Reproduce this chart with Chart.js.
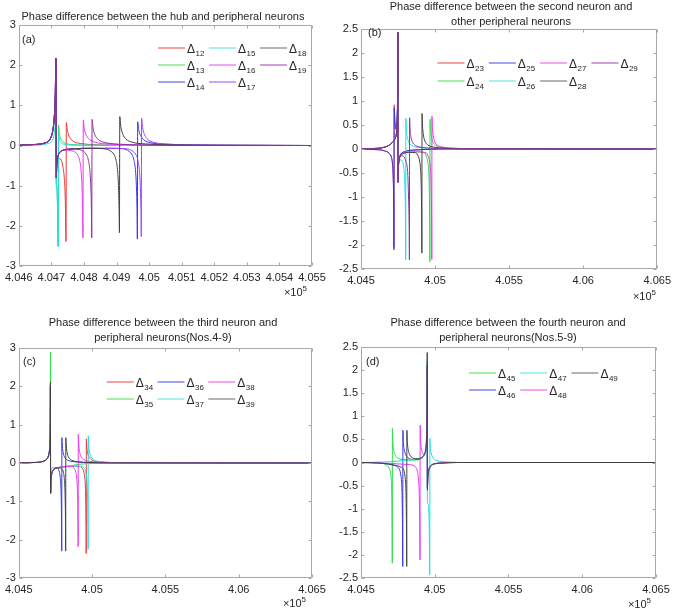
<!DOCTYPE html>
<html><head><meta charset="utf-8">
<script src="https://cdn.jsdelivr.net/npm/chart.js@4.4.1/dist/chart.umd.min.js"></script>
<style>
html,body{margin:0;padding:0;background:#fff;}
#wrap{position:relative;width:676px;height:611px;overflow:hidden;background:#fff;}
.pn{position:absolute;}
</style></head><body><div id="wrap"></div>
<script>
// ---------- tick values / labels ----------
const xTicksA = [4.046,4.047,4.048,4.049,4.050,4.051,4.052,4.053,4.054,4.055];
const xLabelsA = ['4.046','4.047','4.048','4.049','4.05','4.051','4.052','4.053','4.054','4.055'];
const xTicksW = [4.045,4.050,4.055,4.060,4.065];
const xLabelsW = ['4.045','4.05','4.055','4.06','4.065'];
const yTicks3 = [-3,-2,-1,0,1,2,3];
const yLabels3 = ['-3','-2','-1','0','1','2','3'];
const yTicks25 = [-2.5,-2,-1.5,-1,-0.5,0,0.5,1,1.5,2,2.5];
const yLabels25 = ['-2.5','-2','-1.5','-1','-0.5','0','0.5','1','1.5','2','2.5'];

const namesA = ['Δ12','Δ13','Δ14','Δ15','Δ16','Δ17','Δ18','Δ19'];
const namesB = ['Δ23','Δ24','Δ25','Δ26','Δ27','Δ28','Δ29'];
const namesC = ['Δ34','Δ35','Δ36','Δ37','Δ38','Δ39'];
const namesD = ['Δ45','Δ46','Δ47','Δ48','Δ49'];

// ---------- panel (a) series  [x (×10^5), y] ----------
const rampA = [[4.046,0.01],[4.0466,0.03],[4.0468,0.06],[4.0469,0.1],[4.04697,0.17],[4.04702,0.28],[4.04706,0.45],[4.04709,0.7],[4.04712,1.2],[4.04714,2.17]];
const dropA = [[4.04715,-0.8],[4.04717,-0.45],[4.0472,-0.28],[4.04725,-0.18],[4.04732,-0.13],[4.04745,-0.1]];
const d12 = [[4.046,0.01],[4.0466,0.03],[4.0468,0.06],[4.0469,0.1],[4.04697,0.17],[4.04702,0.28],[4.04706,0.45],[4.04709,0.7],[4.04712,1.2],[4.04714,2.15],[4.04715,-0.6],[4.04718,-0.4],[4.04722,-0.33],[4.04727,-0.33],[4.04732,-0.4],[4.04736,-0.55],[4.0474,-0.85],[4.04743,-1.4],[4.04745,-2.39],[4.04746,0.57],[4.04749,0.4],[4.04753,0.26],[4.0476,0.16],[4.0477,0.09],[4.0479,0.05],[4.0482,0.025],[4.0487,0.01],[4.0495,0.004],[4.055,0]];
const d13 = [[4.046,0.01],[4.0466,0.03],[4.0468,0.06],[4.0469,0.1],[4.04697,0.17],[4.04702,0.28],[4.04706,0.45],[4.04709,0.7],[4.04712,1.2],[4.04714,2.0],[4.04715,-0.75],[4.04717,-1.0],[4.04719,-1.5],[4.04721,-2.5],[4.04722,0.51],[4.04725,0.3],[4.04729,0.17],[4.04735,0.1],[4.04745,0.05],[4.0476,0.025],[4.048,0.01],[4.049,0.003],[4.055,0]];
const d14 = [...rampA, ...dropA, [4.0477,-0.08],[4.0482,-0.07],[4.0488,-0.07],[4.0492,-0.08],[4.04939,-0.15],[4.04949,-0.25],[4.04954,-0.38],[4.04958,-0.6],[4.04961,-1.0],[4.04963,-1.6],[4.04964,-2.33],[4.04965,0.59],[4.04968,0.4],[4.04974,0.25],[4.04984,0.14],[4.05004,0.07],[4.05044,0.035],[4.05114,0.015],[4.05264,0.005],[4.055,0]];
const d15 = [[4.046,0],[4.0466,0.01],[4.0469,0.05],[4.047,0.09],[4.04705,0.16],[4.04709,0.3],[4.04712,0.6],[4.04713,1.0],[4.04714,-0.8],[4.04717,-1.1],[4.04719,-1.6],[4.04721,-2.52],[4.04722,0.3],[4.04725,0.15],[4.0473,0.07],[4.0474,0.03],[4.0476,0.01],[4.055,0]];
const d16 = [...rampA, [4.04715,-0.8],[4.04717,-0.45],[4.0472,-0.28],[4.04725,-0.18],[4.04732,-0.13],[4.04745,-0.11],[4.04762,-0.13],[4.04772,-0.16],[4.04782,-0.25],[4.04787,-0.38],[4.04791,-0.6],[4.04794,-1.0],[4.04796,-1.6],[4.04797,-2.3],[4.04798,0.63],[4.04801,0.42],[4.04807,0.26],[4.04817,0.15],[4.04837,0.075],[4.04877,0.035],[4.04947,0.015],[4.05097,0.005],[4.055,0]];
const d17 = [...rampA, ...dropA, [4.0477,-0.08],[4.0482,-0.07],[4.0488,-0.07],[4.0493,-0.08],[4.04951,-0.15],[4.04961,-0.25],[4.04966,-0.38],[4.0497,-0.6],[4.04973,-1.0],[4.04975,-1.6],[4.04976,-2.27],[4.04977,0.68],[4.0498,0.45],[4.04986,0.27],[4.04996,0.15],[4.05016,0.075],[4.05056,0.035],[4.05126,0.015],[4.05276,0.005],[4.055,0]];
const d18 = [...rampA, ...dropA, [4.0477,-0.08],[4.0482,-0.07],[4.0486,-0.08],[4.04884,-0.15],[4.04894,-0.25],[4.04899,-0.38],[4.04903,-0.6],[4.04906,-1.0],[4.04908,-1.6],[4.04909,-2.17],[4.0491,0.72],[4.04913,0.48],[4.04919,0.29],[4.04929,0.16],[4.04949,0.08],[4.04989,0.04],[4.05059,0.017],[4.05209,0.005],[4.055,0]];
const d19 = [...rampA, ...dropA, [4.0477,-0.09],[4.04799,-0.15],[4.04809,-0.25],[4.04814,-0.38],[4.04818,-0.6],[4.04821,-1.0],[4.04823,-1.6],[4.04824,-2.3],[4.04825,0.65],[4.04828,0.43],[4.04834,0.26],[4.04844,0.15],[4.04864,0.075],[4.04904,0.035],[4.04974,0.015],[4.05124,0.005],[4.055,0]];

// ---------- panel (b) series ----------
const rampB = [[4.045,0.005],[4.0462,0.015],[4.0466,0.04],[4.0469,0.08],[4.0471,0.13],[4.0473,0.22],[4.0474,0.35],[4.04744,0.55],[4.04747,1.0],[4.04748,1.5],[4.04749,2.43]];
const dropB = [[4.0475,-0.65],[4.04752,-0.4],[4.04756,-0.25],[4.04762,-0.17],[4.0477,-0.13],[4.0478,-0.1]];
const d23 = [[4.045,-0.005],[4.0462,-0.015],[4.0466,-0.04],[4.0469,-0.09],[4.04705,-0.17],[4.04713,-0.32],[4.04717,-0.55],[4.0472,-1.0],[4.04721,-1.5],[4.04722,-2.05],[4.04724,0.92],[4.04728,0.62],[4.04732,0.47],[4.04737,0.43],[4.04741,0.5],[4.04745,0.75],[4.04747,1.15],[4.04748,1.6],[4.04749,2.35],[4.0475,-0.7],[4.04752,-0.42],[4.04756,-0.25],[4.04762,-0.15],[4.0477,-0.1],[4.0479,-0.06],[4.0483,-0.03],[4.049,-0.015],[4.0505,0],[4.065,0]];
const d24 = [...rampB, ...dropB, [4.0482,-0.07],[4.0488,-0.06],[4.0493,-0.08],[4.0494,-0.15],[4.0495,-0.25],[4.04955,-0.38],[4.04959,-0.6],[4.04962,-1.0],[4.04964,-1.6],[4.04965,-2.35],[4.04966,0.62],[4.04969,0.42],[4.04975,0.26],[4.04985,0.15],[4.05005,0.075],[4.05045,0.035],[4.05115,0.015],[4.05265,0.005],[4.065,0]];
const d25 = [[4.045,-0.005],[4.0462,-0.015],[4.0466,-0.04],[4.0469,-0.09],[4.04705,-0.17],[4.04713,-0.32],[4.04717,-0.55],[4.0472,-1.0],[4.04721,-1.5],[4.04722,-2.1],[4.04724,0.85],[4.04728,0.6],[4.04732,0.45],[4.04737,0.41],[4.04741,0.48],[4.04745,0.73],[4.04747,1.15],[4.04748,1.6],[4.04749,2.4],[4.0475,-0.7],[4.04752,-0.42],[4.04756,-0.25],[4.04762,-0.15],[4.0477,-0.1],[4.0479,-0.06],[4.0483,-0.03],[4.049,-0.015],[4.0505,0],[4.065,0]];
const d26 = [...rampB, [4.0475,-0.65],[4.04752,-0.42],[4.04756,-0.3],[4.04762,-0.24],[4.0477,-0.22],[4.04777,-0.25],[4.04787,-0.35],[4.04792,-0.5],[4.04796,-0.75],[4.04799,-1.15],[4.04801,-1.7],[4.04802,-2.31],[4.04803,0.64],[4.04806,0.42],[4.04812,0.26],[4.04822,0.15],[4.04842,0.075],[4.04882,0.035],[4.04952,0.015],[4.05102,0.005],[4.065,0]];
const d27 = [...rampB, ...dropB, [4.0482,-0.07],[4.0488,-0.06],[4.0494,-0.08],[4.04953,-0.15],[4.04963,-0.25],[4.04968,-0.38],[4.04972,-0.6],[4.04975,-1.0],[4.04977,-1.6],[4.04978,-2.3],[4.04979,0.68],[4.04982,0.45],[4.04988,0.27],[4.04998,0.15],[4.05018,0.075],[4.05058,0.035],[4.05128,0.015],[4.05278,0.005],[4.065,0]];
const d28 = [...rampB, ...dropB, [4.0482,-0.07],[4.0487,-0.08],[4.04886,-0.15],[4.04896,-0.25],[4.04901,-0.38],[4.04905,-0.6],[4.04908,-1.0],[4.0491,-1.6],[4.04911,-2.17],[4.04912,0.74],[4.04915,0.5],[4.04921,0.3],[4.04931,0.17],[4.04951,0.085],[4.04991,0.04],[4.05061,0.017],[4.05211,0.005],[4.065,0]];
const d29 = [...rampB, [4.0475,-0.65],[4.04752,-0.4],[4.04756,-0.25],[4.04762,-0.17],[4.0477,-0.14],[4.0479,-0.16],[4.04802,-0.25],[4.04812,-0.38],[4.04817,-0.6],[4.04821,-1.0],[4.04825,-1.6],[4.04827,-2.31],[4.04828,0.65],[4.04831,0.43],[4.04837,0.26],[4.04847,0.15],[4.04867,0.075],[4.04907,0.035],[4.04977,0.015],[4.05127,0.005],[4.065,0]];

// ---------- panel (c) series ----------
const rampC = [[4.045,0.005],[4.0462,0.015],[4.0467,0.05],[4.04695,0.12],[4.04705,0.22],[4.0471,0.35],[4.04713,0.6],[4.04715,1.1],[4.04716,2.03]];
const dropC = [[4.04717,-0.79],[4.0472,-0.45],[4.04725,-0.28],[4.04732,-0.2],[4.0474,-0.16],[4.0476,-0.13]];
const d34 = [...rampC, ...dropC, [4.048,-0.1],[4.0486,-0.08],[4.0492,-0.09],[4.04935,-0.15],[4.04945,-0.25],[4.0495,-0.38],[4.04954,-0.6],[4.04957,-1.0],[4.04959,-1.6],[4.0496,-2.36],[4.04961,0.63],[4.04964,0.42],[4.0497,0.26],[4.0498,0.15],[4.05,0.075],[4.0504,0.035],[4.0511,0.015],[4.0526,0.005],[4.065,0]];
const d35 = [[4.045,0.005],[4.0462,0.015],[4.0467,0.05],[4.04695,0.12],[4.04705,0.22],[4.0471,0.35],[4.04713,0.6],[4.04715,1.2],[4.04716,2.89],[4.04717,-0.3],[4.0472,-0.17],[4.0473,-0.13],[4.0476,-0.12],[4.0482,-0.1],[4.0486,-0.07],[4.049,-0.04],[4.0495,-0.02],[4.0502,-0.005],[4.065,0]];
const d36 = [...rampC, ...dropC, [4.04768,-0.15],[4.04778,-0.25],[4.04783,-0.38],[4.04787,-0.6],[4.0479,-1.0],[4.04792,-1.6],[4.04793,-2.3],[4.04794,0.66],[4.04797,0.44],[4.04803,0.27],[4.04813,0.15],[4.04833,0.075],[4.04873,0.035],[4.04943,0.015],[4.05093,0.005],[4.065,0]];
const d37 = [...rampC, ...dropC, [4.048,-0.1],[4.0486,-0.08],[4.0493,-0.09],[4.04948,-0.15],[4.04958,-0.25],[4.04963,-0.38],[4.04967,-0.6],[4.0497,-1.0],[4.04972,-1.6],[4.04973,-2.25],[4.04974,0.71],[4.04977,0.47],[4.04983,0.28],[4.04993,0.16],[4.05013,0.08],[4.05053,0.036],[4.05123,0.015],[4.05273,0.005],[4.065,0]];
const d38 = [...rampC, ...dropC, [4.048,-0.1],[4.0486,-0.09],[4.0488,-0.15],[4.0489,-0.25],[4.04895,-0.38],[4.04899,-0.6],[4.04902,-1.0],[4.04904,-1.6],[4.04905,-2.18],[4.04906,0.75],[4.04909,0.5],[4.04915,0.3],[4.04925,0.17],[4.04945,0.085],[4.04985,0.04],[4.05055,0.017],[4.05205,0.005],[4.065,0]];
const d39 = [[4.045,0.005],[4.0462,0.015],[4.0467,0.05],[4.04695,0.12],[4.04705,0.22],[4.0471,0.35],[4.04713,0.6],[4.04715,1.1],[4.04716,2.1],[4.04717,-0.79],[4.0472,-0.45],[4.04725,-0.28],[4.04732,-0.2],[4.0474,-0.16],[4.0476,-0.13],[4.0478,-0.13],[4.04795,-0.15],[4.04805,-0.25],[4.0481,-0.38],[4.04814,-0.6],[4.04817,-1.0],[4.04819,-1.6],[4.0482,-2.3],[4.04821,0.66],[4.04824,0.44],[4.0483,0.27],[4.0484,0.15],[4.0486,0.075],[4.049,0.035],[4.0497,0.015],[4.0512,0.005],[4.065,0]];

// ---------- panel (d) series ----------
const riseD = [[4.0491,0.1],[4.0493,0.18],[4.0494,0.3],[4.04945,0.55],[4.04947,0.9],[4.04948,1.4]];
const tailD = [[4.0495,-0.55],[4.04953,-0.3],[4.04958,-0.17],[4.04965,-0.1],[4.0498,-0.05],[4.05,-0.025],[4.0505,-0.01],[4.0515,0],[4.065,0]];
const d45 = [[4.045,0],[4.0463,-0.01],[4.0467,-0.05],[4.0469,-0.12],[4.047,-0.22],[4.04705,-0.38],[4.04708,-0.6],[4.0471,-1.0],[4.04711,-1.5],[4.04712,-2.18],[4.04713,0.74],[4.04716,0.45],[4.0472,0.3],[4.04727,0.2],[4.0474,0.12],[4.0476,0.08],[4.048,0.06],[4.0485,0.05],[4.0489,0.06],...riseD,[4.04949,2.2],...tailD];
const d46 = [[4.045,0],[4.0462,-0.01],[4.0468,-0.03],[4.0472,-0.06],[4.0475,-0.1],[4.04762,-0.16],[4.0477,-0.27],[4.04775,-0.42],[4.04778,-0.65],[4.0478,-1.0],[4.04782,-1.6],[4.04783,-2.25],[4.04784,0.7],[4.04787,0.45],[4.04793,0.28],[4.04803,0.17],[4.0482,0.1],[4.0485,0.07],[4.0488,0.07],...riseD,[4.04949,2.1],...tailD];
const d47 = [[4.045,0],[4.0465,0.01],[4.0475,0.03],[4.048,0.05],[4.0486,0.07],[4.049,0.1],[4.0492,0.14],[4.04935,0.25],[4.04942,0.45],[4.04946,0.8],[4.04948,1.3],[4.04949,2.0],[4.0495,-0.85],[4.04955,-0.9],[4.0496,-1.1],[4.04963,-1.5],[4.04966,-2.43],[4.04967,0.52],[4.0497,0.35],[4.04975,0.22],[4.04985,0.12],[4.05,0.06],[4.0503,0.03],[4.051,0.01],[4.052,0],[4.065,0]];
const d48 = [[4.045,0],[4.0462,-0.01],[4.047,-0.02],[4.048,-0.04],[4.0486,-0.07],[4.04878,-0.15],[4.04886,-0.25],[4.0489,-0.38],[4.04894,-0.6],[4.04897,-1.0],[4.04899,-1.6],[4.049,-2.11],[4.04901,0.81],[4.04904,0.5],[4.0491,0.3],[4.04918,0.2],[4.04928,0.17],[4.04936,0.22],[4.04942,0.35],[4.04946,0.6],[4.04948,1.1],[4.04949,2.0],...tailD];
const d49 = [[4.045,0],[4.0462,-0.01],[4.0468,-0.03],[4.0473,-0.06],[4.0477,-0.1],[4.0479,-0.16],[4.04797,-0.27],[4.04802,-0.42],[4.04805,-0.65],[4.04807,-1.0],[4.04809,-1.6],[4.0481,-2.25],[4.04811,0.7],[4.04814,0.45],[4.0482,0.28],[4.0483,0.17],[4.0485,0.1],[4.0488,0.08],...riseD,[4.04949,2.38],[4.0495,-0.6],[4.04953,-0.35],[4.04958,-0.2],[4.04965,-0.12],[4.0498,-0.06],[4.05,-0.03],[4.0505,-0.012],[4.0515,0],[4.065,0]];

// ---------- styling ----------
const FONT = '"Liberation Sans", Arial, Helvetica, sans-serif';
const TXT = '#262626', AXC = '#a8a8a8';
const C = {r:'#ef3535', g:'#2edc4e', b:'#3535ef', c:'#1ce0e0', m:'#ef35ef', k:'#404040', v:'#9d45ff', p:'#8c3399'};
const LC = {r:'#f6a2a2', g:'#a6f0a6', b:'#a4a4f4', c:'#a6f2f2', m:'#f4a6f4', k:'#b4b4b4', v:'#cfa4ff', p:'#d0a0d8'};

const panels = [
 {left:0, top:0, w:338, h:305, area:[15,25,312,266], xmin:4.046, xmax:4.055, ymin:-3, ymax:3,
  xt:xTicksA, xl:xLabelsA, yt:yTicks3, yl:yLabels3,
  title:['Phase difference between the hub and peripheral neurons'], titleX:163, titleY:[17],
  lab:'(a)', labX:22, labY:40, legX:158, legY:47.5, legDX:51, legDY:17.2, legRows:3, expX:307, expY:293,
  names:namesA, keys:['r','g','b','c','m','v','k','p'], data:[d12,d13,d14,d15,d16,d17,d18,d19]},
 {left:338, top:0, w:338, h:305, area:[23,29,323,269], xmin:4.045, xmax:4.065, ymin:-2.5, ymax:2.5,
  xt:xTicksW, xl:xLabelsW, yt:yTicks25, yl:yLabels25,
  title:['Phase difference between the second neuron and','other peripheral neurons'], titleX:173, titleY:[7,21.5],
  lab:'(b)', labX:30, labY:33, legX:99.5, legY:62.7, legDX:51.3, legDY:18, legRows:2, expX:318, expY:297,
  names:namesB, keys:['r','g','b','c','m','k','p'], data:[d23,d24,d25,d26,d27,d28,d29]},
 {left:0, top:305, w:338, h:306, area:[16,43,312,273], xmin:4.045, xmax:4.065, ymin:-3, ymax:3,
  xt:xTicksW, xl:xLabelsW, yt:yTicks3, yl:yLabels3,
  title:['Phase difference between the third neuron and','peripheral neurons(Nos.4-9)'], titleX:163, titleY:[18,33],
  lab:'(c)', labX:23, labY:57, legX:106.7, legY:76.7, legDX:50.8, legDY:17.3, legRows:2, expX:306, expY:299,
  names:namesC, keys:['r','g','b','c','m','k'], data:[d34,d35,d36,d37,d38,d39]},
 {left:338, top:305, w:338, h:306, area:[23,42,318,273], xmin:4.045, xmax:4.065, ymin:-2.5, ymax:2.5,
  xt:xTicksW, xl:xLabelsW, yt:yTicks25, yl:yLabels25,
  title:['Phase difference between the fourth neuron and','peripheral neurons(Nos.5-9)'], titleX:170, titleY:[18,33],
  lab:'(d)', labX:28, labY:57, legX:131, legY:67.7, legDX:51.2, legDY:17.3, legRows:2, expX:313, expY:300,
  names:namesD, keys:['g','b','c','m','k'], data:[d45,d46,d47,d48,d49]}
];

function makeDeco(P){
  return {
    id:'deco',
    afterDatasetsDraw(chart){
      const ctx = chart.ctx, a = chart.chartArea, xs = chart.scales.x, ys = chart.scales.y;
      ctx.save();
      ctx.strokeStyle = AXC; ctx.lineWidth = 1;
      const L = Math.round(a.left)+0.5, R = Math.round(a.right)-0.5, T = Math.round(a.top)+0.5, B = Math.round(a.bottom)-0.5;
      ctx.beginPath(); ctx.rect(L, T, R-L, B-T); ctx.stroke();
      ctx.beginPath();
      P.xt.forEach(v => { const px = Math.round(xs.getPixelForValue(v))+0.5; ctx.moveTo(px,B); ctx.lineTo(px,B-3); ctx.moveTo(px,T); ctx.lineTo(px,T+3); });
      P.yt.forEach(v => { const py = Math.round(ys.getPixelForValue(v))+0.5; ctx.moveTo(L,py); ctx.lineTo(L+3,py); ctx.moveTo(R,py); ctx.lineTo(R-3,py); });
      ctx.stroke();
      ctx.fillStyle = TXT; ctx.textBaseline = 'middle';
      ctx.font = '11px ' + FONT; ctx.textAlign = 'center';
      P.title.forEach((s,i) => ctx.fillText(s, P.titleX, P.titleY[i]));
      ctx.textAlign = 'left'; ctx.fillText(P.lab, P.labX, P.labY);
      ctx.textAlign = 'right'; ctx.font = '8px ' + FONT; ctx.fillText('5', P.expX, P.expY-4);
      const w5 = ctx.measureText('5').width;
      ctx.font = '11px ' + FONT; ctx.fillText('×10', P.expX - w5, P.expY);
      P.names.forEach((nm,i) => {
        const col = Math.floor(i / P.legRows), row = i % P.legRows;
        const x0 = P.legX + col*P.legDX, y = Math.round(P.legY + row*P.legDY);
        ctx.strokeStyle = LC[P.keys[i]]; ctx.lineWidth = 2;
        ctx.beginPath(); ctx.moveTo(x0, y); ctx.lineTo(x0+27, y); ctx.stroke();
        ctx.fillStyle = TXT; ctx.textAlign = 'left'; ctx.textBaseline = 'alphabetic';
        ctx.font = '12px ' + FONT; ctx.fillText(nm[0], x0+29, y+4.5);
        const wd = ctx.measureText(nm[0]).width;
        ctx.font = '8px ' + FONT; ctx.fillText(nm.slice(1), x0+29+wd+0.5, y+8);
      });
      ctx.restore();
    }
  };
}

const wrap = document.getElementById('wrap');
panels.forEach(P => {
  const div = document.createElement('div'); div.className = 'pn';
  div.style.left = P.left+'px'; div.style.top = P.top+'px'; div.style.width = P.w+'px'; div.style.height = P.h+'px';
  const cv = document.createElement('canvas'); cv.width = P.w; cv.height = P.h;
  cv.style.width = P.w+'px'; cv.style.height = P.h+'px';
  div.appendChild(cv); wrap.appendChild(div);
  const [l,t,r,b] = P.area;
  new Chart(cv, {
    type:'line',
    data:{ datasets: P.data.map((d,i) => ({
      label:P.names[i], data:d.map(p => ({x:p[0], y:p[1]})),
      borderColor:C[P.keys[i]], borderWidth:1, pointRadius:0, fill:false,
      cubicInterpolationMode:'monotone', order:-i }))},
    options:{
      responsive:false, animation:false, devicePixelRatio:1, events:[],
      layout:{padding:{left:0, top:t, right:P.w-r, bottom:0}},
      plugins:{legend:{display:false}, title:{display:false}, tooltip:{enabled:false}},
      scales:{
        x:{type:'linear', min:P.xmin, max:P.xmax,
           afterBuildTicks:s => { s.ticks = P.xt.map(v => ({value:v})); },
           afterFit:s => { s.height = P.h - b; },
           grid:{display:false, drawTicks:false}, border:{display:false},
           ticks:{autoSkip:false, maxRotation:0, padding:5, color:TXT, font:{family:FONT, size:11}, callback:(v,i) => P.xl[i]}},
        y:{type:'linear', min:P.ymin, max:P.ymax,
           afterBuildTicks:s => { s.ticks = P.yt.map(v => ({value:v})); },
           afterFit:s => { s.width = l; },
           grid:{display:false, drawTicks:false}, border:{display:false},
           ticks:{autoSkip:false, padding:3, color:TXT, font:{family:FONT, size:11}, callback:(v,i) => P.yl[i]}}
      }
    },
    plugins:[makeDeco(P)]
  });
});
</script></body></html>
